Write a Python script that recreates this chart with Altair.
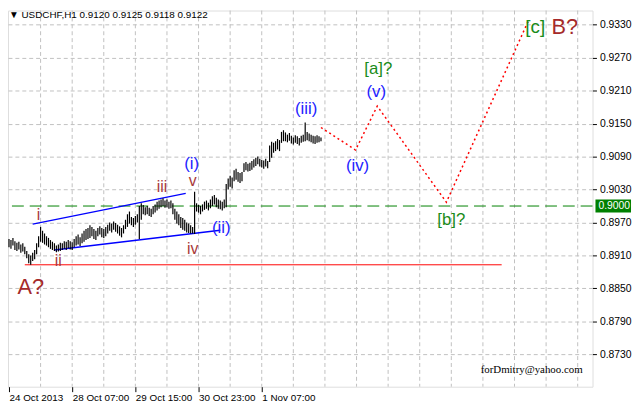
import altair as alt
import pandas as pd

# ---------------- data ----------------
bar_high = [
    0.8940, 0.8938, 0.8942, 0.8936, 0.8933, 0.8935, 0.8930, 0.8932, 0.8926,
    0.8918, 0.8912, 0.8910,
    0.8915, 0.8920, 0.8932, 0.8945, 0.8962, 0.8955, 0.8950, 0.8945,
    0.8942, 0.8938, 0.8935, 0.8932, 0.8928, 0.8930, 0.8933, 0.8932, 0.8936, 0.8935,
    0.8938, 0.8936, 0.8934, 0.8940, 0.8945, 0.8948, 0.8943, 0.8950, 0.8955, 0.8958,
    0.8960, 0.8965, 0.8962, 0.8958, 0.8955, 0.8960, 0.8963, 0.8960, 0.8958, 0.8962,
    0.8966, 0.8970, 0.8968, 0.8972, 0.8969, 0.8966, 0.8963, 0.8960, 0.8965, 0.8975,
    0.8985, 0.8990, 0.8980, 0.8978, 0.8982, 0.8985, 0.9000, 0.9005, 0.9002, 0.8998,
    0.9000, 0.8997, 0.8995, 0.9000, 0.9003, 0.9008, 0.9010, 0.9012, 0.9014, 0.9010,
    0.9012, 0.9008, 0.9010, 0.9005, 0.8995, 0.8990, 0.8985, 0.8980, 0.8978, 0.8975,
    0.8970, 0.8968, 0.8965, 0.8962, 0.9026, 0.9005, 0.9002, 0.9000, 0.9003, 0.9008,
    0.9010, 0.9006, 0.9012, 0.9018, 0.9020, 0.9015, 0.9012, 0.9010, 0.9008, 0.9012,
    0.9040, 0.9050, 0.9055, 0.9052, 0.9065, 0.9068, 0.9062, 0.9060, 0.9062, 0.9078,
    0.9080, 0.9077, 0.9079, 0.9082, 0.9085, 0.9088, 0.9090, 0.9086, 0.9084, 0.9083,
    0.9086, 0.9082, 0.9110, 0.9117, 0.9115, 0.9118, 0.9122, 0.9120, 0.9135, 0.9138,
    0.9134, 0.9130, 0.9133, 0.9128, 0.9125, 0.9129, 0.9127, 0.9124, 0.9128, 0.9130,
    0.9152, 0.9135, 0.9132, 0.9130, 0.9128, 0.9127, 0.9129, 0.9127, 0.9125,
]
bar_low = [
    0.8925, 0.8922, 0.8928, 0.8920, 0.8918, 0.8921, 0.8915, 0.8917, 0.8912,
    0.8905, 0.8896, 0.8893,
    0.8900, 0.8903, 0.8912, 0.8925, 0.8935, 0.8933, 0.8930, 0.8928,
    0.8925, 0.8922, 0.8920, 0.8918, 0.8916, 0.8917, 0.8918, 0.8920, 0.8922, 0.8920,
    0.8923, 0.8921, 0.8920, 0.8925, 0.8928, 0.8930, 0.8927, 0.8932, 0.8935, 0.8938,
    0.8940, 0.8942, 0.8945, 0.8940, 0.8938, 0.8945, 0.8948, 0.8943, 0.8942, 0.8945,
    0.8950, 0.8955, 0.8952, 0.8957, 0.8953, 0.8950, 0.8946, 0.8943, 0.8950, 0.8958,
    0.8962, 0.8968, 0.8965, 0.8962, 0.8966, 0.8970, 0.8940, 0.8975, 0.8985, 0.8983,
    0.8985, 0.8982, 0.8980, 0.8985, 0.8988, 0.8992, 0.8995, 0.8998, 0.9000, 0.8997,
    0.8998, 0.8995, 0.8996, 0.8985, 0.8975, 0.8968, 0.8965, 0.8960, 0.8957, 0.8955,
    0.8952, 0.8951, 0.8950, 0.8950, 0.8949, 0.8990, 0.8988, 0.8985, 0.8990, 0.8993,
    0.8995, 0.8992, 0.8996, 0.9000, 0.9003, 0.8998, 0.8995, 0.8994, 0.8992, 0.8996,
    0.8998, 0.9030, 0.9035, 0.9032, 0.9045, 0.9048, 0.9044, 0.9042, 0.9045, 0.9062,
    0.9065, 0.9063, 0.9064, 0.9066, 0.9070, 0.9073, 0.9076, 0.9072, 0.9070, 0.9068,
    0.9072, 0.9069, 0.9080, 0.9088, 0.9097, 0.9100, 0.9103, 0.9100, 0.9115, 0.9118,
    0.9118, 0.9116, 0.9119, 0.9114, 0.9112, 0.9115, 0.9113, 0.9110, 0.9115, 0.9117,
    0.9118, 0.9120, 0.9118, 0.9116, 0.9114, 0.9113, 0.9115, 0.9116, 0.9118,
]

y_ticks = [0.8730, 0.8790, 0.8850, 0.8910, 0.8970, 0.9030, 0.9090, 0.9150, 0.9210, 0.9270, 0.9330]
x_tick_idx = [0, 32, 64, 96, 128]
x_tick_text = ["24 Oct 2013", "28 Oct 07:00", "29 Oct 15:00", "30 Oct 23:00", "1 Nov 07:00"]
x_grid_idx = [16, 32, 48, 64, 80, 96, 112, 128, 144, 160, 176, 192, 208, 224, 240, 256, 272, 288]

support_level = 0.9000
red_level = 0.8893
red_from, red_to = 8, 249.5

channel_x1 = [12, 23]
channel_y1 = [0.8967, 0.8920]
channel_x2 = [89.5, 107]
channel_y2 = [0.9023, 0.8956]

forecast_i = [158, 175.5, 186.5, 221.5, 263]
forecast_p = [0.9143, 0.9102, 0.9182, 0.9007, 0.9337]

lab_text = ["A?", "B?", "[c]", "[a]?", "[b]?",
            "(i)", "(ii)", "(iii)", "(iv)", "(v)",
            "i", "ii", "iii", "iv", "v"]
lab_i = [11, 281.5, 266.5, 187, 224,
         92.5, 107.5, 150.5, 176.5, 186,
         15, 25, 77.5, 93, 93]
lab_p = [0.8852, 0.9325, 0.9325, 0.9249, 0.8975,
         0.9076, 0.8959, 0.9177, 0.9072, 0.9207,
         0.8984, 0.8900, 0.9034, 0.8921, 0.9045]
lab_color = ["#a52a2a", "#a52a2a", "#1a8c1a", "#1a8c1a", "#1a8c1a",
             "#2222ff", "#2222ff", "#2222ff", "#2222ff", "#2222ff",
             "#a83a3a", "#a83a3a", "#a83a3a", "#a83a3a", "#a83a3a"]
lab_size = [22, 22, 19, 17, 17,
            17, 17, 17, 17, 17,
            16, 16, 16, 16, 16]

header = "\u25bc USDCHF,H1  0.9120 0.9125 0.9118 0.9122"
watermark = "forDmitry@yahoo.com"

# ---------------- chart ----------------
W, H = 592, 381
FONT = "Liberation Sans"
xs = alt.Scale(domain=[-0.5, 295.5], nice=False, zero=False)
ys = alt.Scale(domain=[0.8671, 0.9356], nice=False, zero=False)

bars = pd.DataFrame({"i": list(range(len(bar_high))), "high": bar_high, "low": bar_low})

label_expr = " : ".join(f"datum.value == {v} ? '{t}'" for v, t in zip(x_tick_idx, x_tick_text)) + " : ''"

x_axis = alt.Axis(values=x_tick_idx, labelExpr=label_expr, grid=False, domain=False,
                  tickColor="black", tickSize=5, labelAlign="left", labelBaseline="top",
                  labelPadding=1, labelFont=FONT, labelFontSize=10, labelColor="black",
                  labelOverlap=False, labelBound=False, labelFlush=False, title=None)
y_axis = alt.Axis(orient="right", values=y_ticks, format=".4f", grid=True,
                  gridColor="#c0c0c0", gridDash=[4, 3], gridWidth=1, domain=False,
                  tickColor="black", tickSize=4, labelPadding=3, labelFont=FONT,
                  labelFontSize=10.5, labelColor="black", title=None)


def X(f):
    return alt.X(f, scale=xs, axis=x_axis)


def Y(f):
    return alt.Y(f, scale=ys, axis=y_axis)


vgrid = alt.Chart(pd.DataFrame({"g": x_grid_idx})).mark_rule(
    color="#c0c0c0", strokeDash=[4, 3], strokeWidth=1
).encode(x=X("g:Q"))

green = alt.Chart(pd.DataFrame({"p": [support_level]})).mark_rule(
    color="#008000", strokeDash=[12, 6], strokeWidth=1
).encode(y=Y("p:Q"))

redline = alt.Chart(pd.DataFrame({"a": [red_from], "b": [red_to], "p": [red_level]})).mark_rule(
    color="#ff0000", strokeWidth=1
).encode(x=X("a:Q"), x2="b:Q", y=Y("p:Q"))

channel = alt.Chart(pd.DataFrame({"x1": channel_x1, "y1": channel_y1,
                                  "x2": channel_x2, "y2": channel_y2})).mark_rule(
    color="#0000ff", strokeWidth=1.4
).encode(x=X("x1:Q"), y=Y("y1:Q"), x2="x2:Q", y2="y2:Q")

bar_layer = alt.Chart(bars).mark_rule(color="black", strokeWidth=1.2).encode(
    x=X("i:Q"), y=Y("low:Q"), y2="high:Q",
)

forecast = alt.Chart(pd.DataFrame({"i": forecast_i, "p": forecast_p,
                                   "o": list(range(len(forecast_i)))})).mark_line(
    color="#ff0000", strokeDash=[2, 3], strokeWidth=1.5
).encode(x=X("i:Q"), y=Y("p:Q"), order="o:Q")

labels = alt.Chart(pd.DataFrame({"t": lab_text, "i": lab_i, "p": lab_p,
                                 "c": lab_color, "s": lab_size})).mark_text(
    font=FONT, baseline="middle", align="center"
).encode(x=X("i:Q"), y=Y("p:Q"),
         text="t:N", color=alt.Color("c:N", scale=None), size=alt.Size("s:Q", scale=None))

box = alt.Chart(pd.DataFrame({"p": [support_level]})).mark_tick(
    orient="horizontal", size=36, thickness=13, color="#008000", opacity=1
).encode(y=Y("p:Q"), x=alt.value(W + 21))

box_text = alt.Chart(pd.DataFrame({"p": [support_level], "t": ["0.9000"]})).mark_text(
    font=FONT, fontSize=10.5, color="white", align="left", baseline="middle"
).encode(y=Y("p:Q"), x=alt.value(W + 6), text="t:N")

head = alt.Chart(pd.DataFrame({"t": [header]})).mark_text(
    font=FONT, fontSize=10, color="black", align="left", baseline="middle"
).encode(x=alt.value(1), y=alt.value(5), text="t:N")

mark_wm = alt.Chart(pd.DataFrame({"t": [watermark]})).mark_text(
    font="Liberation Serif", fontSize=11, color="black", align="right", baseline="middle"
).encode(x=alt.value(582), y=alt.value(364), text="t:N")

chart = alt.layer(vgrid, green, redline, channel, bar_layer, forecast, labels,
                  box, box_text, head, mark_wm).properties(
    width=W, height=H,
    autosize=alt.AutoSizeParams(type="none"),
    padding={"left": 0, "top": 0, "right": 40, "bottom": 18},
).configure_view(stroke="black", strokeWidth=1, fill="white").configure(background="white")

chart.save("out.html", embed_options={"renderer": "svg", "actions": False})
